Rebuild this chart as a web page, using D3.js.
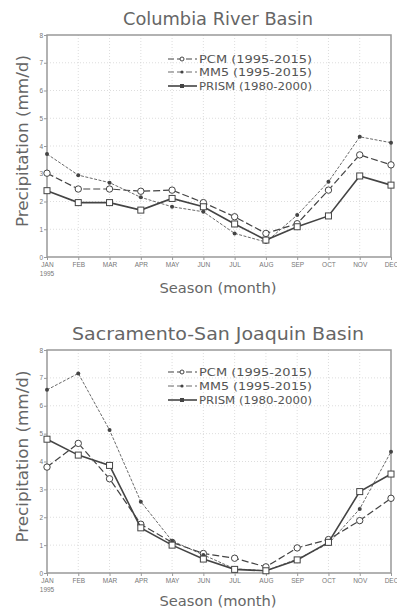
<!DOCTYPE html>
<html><head><meta charset="utf-8">
<script src="https://cdn.jsdelivr.net/npm/d3@7"></script>
<style>
html,body{margin:0;padding:0;background:#fff;}
svg{display:block;font-family:"DejaVu Sans Condensed","DejaVu Sans",sans-serif;}
</style></head>
<body>
<svg id="c" width="397" height="611"></svg>
<script>
const months = ["JAN","FEB","MAR","APR","MAY","JUN","JUL","AUG","SEP","OCT","NOV","DEC"];
const yTicks = [0,1,2,3,4,5,6,7,8];
const seriesNames = ["PCM (1995-2015)","MM5 (1995-2015)","PRISM (1980-2000)"];

// Columbia River Basin
const columbiaPCM   = [3.02,2.45,2.45,2.37,2.41,1.96,1.45,0.85,1.20,2.41,3.68,3.32];
const columbiaMM5   = [3.71,2.95,2.68,2.15,1.81,1.63,0.85,0.54,1.51,2.71,4.33,4.12];
const columbiaPRISM = [2.39,1.96,1.96,1.69,2.11,1.81,1.19,0.61,1.09,1.48,2.92,2.59];

// Sacramento-San Joaquin Basin
const sacPCM   = [3.80,4.65,3.38,1.75,1.10,0.70,0.53,0.22,0.90,1.20,1.88,2.68];
const sacMM5   = [6.57,7.16,5.13,2.56,1.15,0.65,0.15,0.08,0.50,1.05,2.30,4.35];
const sacPRISM = [4.80,4.23,3.86,1.62,1.00,0.50,0.13,0.08,0.47,1.10,2.92,3.55];

const panels = [
  {title:"Columbia River Basin", titleLen:190, top:35, bottom:257, data:[columbiaPCM,columbiaMM5,columbiaPRISM], titleY:25, xlabY:293, legY:[59,72,86]},
  {title:"Sacramento-San Joaquin Basin", titleLen:292, top:350, bottom:573, data:[sacPCM,sacMM5,sacPRISM], titleY:340, xlabY:606, legY:[372,386,400]}
];
const left = 47, right = 391;
const ink = "#444", frame = "#999", grid = "#cfcfcf";

const styles = [
  {dash:"7,3", width:1.2, marker:"circle"},
  {dash:"3,1.5", width:0.8, marker:"dot"},
  {dash:null, width:1.6, marker:"square"}
];

const svg = d3.select("#c");

function drawMarker(g, type, x, y){
  if(type==="circle"){
    g.append("circle").attr("cx",x).attr("cy",y).attr("r",3.2)
      .attr("fill","#fff").attr("stroke",ink).attr("stroke-width",1);
  } else if(type==="dot"){
    g.append("circle").attr("cx",x).attr("cy",y).attr("r",2)
      .attr("fill",ink);
  } else {
    g.append("rect").attr("x",x-3).attr("y",y-3).attr("width",6).attr("height",6)
      .attr("fill","#fff").attr("stroke",ink).attr("stroke-width",1);
  }
}

panels.forEach(p=>{
  const x = d3.scalePoint().domain(months).range([left,right]);
  const y = d3.scaleLinear().domain([0,8]).range([p.bottom,p.top]);
  const g = svg.append("g");

  // grid
  g.append("g").selectAll("line.v").data(months.slice(1,-1)).join("line")
    .attr("x1",d=>x(d)).attr("x2",d=>x(d)).attr("y1",p.top).attr("y2",p.bottom)
    .attr("stroke",grid).attr("stroke-width",0.7).attr("stroke-dasharray","1,2");
  g.append("g").selectAll("line.h").data(yTicks.slice(1,-1)).join("line")
    .attr("x1",left).attr("x2",right).attr("y1",d=>y(d)).attr("y2",d=>y(d))
    .attr("stroke",grid).attr("stroke-width",0.7).attr("stroke-dasharray","1,2");

  // axes
  const ya = g.append("g").attr("transform",`translate(${left},0)`)
    .call(d3.axisLeft(y).tickValues(yTicks).tickSize(3).tickPadding(1).tickFormat(d3.format("d")));
  ya.select(".domain").remove();
  ya.selectAll("line").attr("stroke",frame);
  ya.selectAll("text").attr("font-size",6.5).attr("fill","#777");

  const xa = g.append("g").attr("transform",`translate(0,${p.bottom})`)
    .call(d3.axisBottom(x).tickSize(3).tickPadding(2));
  xa.select(".domain").remove();
  xa.selectAll("line").attr("stroke",frame);
  xa.selectAll("text").attr("font-size",6.5).attr("fill","#777");
  xa.append("text").attr("x",x("JAN")).attr("y",19).attr("text-anchor","middle")
    .attr("font-size",6.5).attr("fill","#777").text("1995");

  // frame
  g.append("rect").attr("x",left).attr("y",p.top).attr("width",right-left).attr("height",p.bottom-p.top)
    .attr("fill","none").attr("stroke",frame).attr("stroke-width",1.5);

  // lines
  p.data.forEach((vals,i)=>{
    const st = styles[i];
    const line = d3.line().x((d,j)=>x(months[j])).y(d=>y(d));
    g.append("path").datum(vals).attr("d",line).attr("fill","none")
      .attr("stroke",ink).attr("stroke-width",st.width)
      .attr("stroke-dasharray",st.dash);
    const mg = g.append("g");
    vals.forEach((v,j)=>drawMarker(mg, st.marker, x(months[j]), y(v)));
  });

  // legend
  seriesNames.forEach((name,i)=>{
    const st = styles[i];
    const ly = p.legY[i];
    g.append("line").attr("x1",168).attr("x2",197).attr("y1",ly).attr("y2",ly)
      .attr("stroke",ink).attr("stroke-width",st.width).attr("stroke-dasharray",st.dash?"6,3":null);
    const lm = g.append("g");
    if(st.marker==="circle"){
      lm.append("circle").attr("cx",182).attr("cy",ly).attr("r",2).attr("fill","#fff").attr("stroke",ink);
    } else if(st.marker==="dot"){
      lm.append("circle").attr("cx",182).attr("cy",ly).attr("r",1.6).attr("fill",ink);
    } else {
      lm.append("rect").attr("x",180).attr("y",ly-2).attr("width",4).attr("height",4).attr("fill",ink);
    }
    g.append("text").attr("x",199).attr("y",ly+4).attr("font-size",11).attr("fill","#555")
      .attr("textLength",113).attr("lengthAdjust","spacingAndGlyphs").text(name);
  });

  // titles
  g.append("text").attr("x",(left+right)/2 - 1).attr("y",p.titleY).attr("text-anchor","middle")
    .attr("font-size",17).attr("fill","#666")
    .attr("textLength",p.titleLen).attr("lengthAdjust","spacingAndGlyphs").text(p.title);
  g.append("text").attr("x",218).attr("y",p.xlabY).attr("text-anchor","middle")
    .attr("font-size",14).attr("fill","#666")
    .attr("textLength",117).attr("lengthAdjust","spacingAndGlyphs").text("Season (month)");
  const cy = (p.top+p.bottom)/2 - 5;
  g.append("text").attr("transform",`translate(28,${cy}) rotate(-90)`).attr("text-anchor","middle")
    .attr("font-size",15).attr("fill","#666")
    .attr("textLength",172).attr("lengthAdjust","spacingAndGlyphs").text("Precipitation (mm/d)");
});
</script>
</body></html>
